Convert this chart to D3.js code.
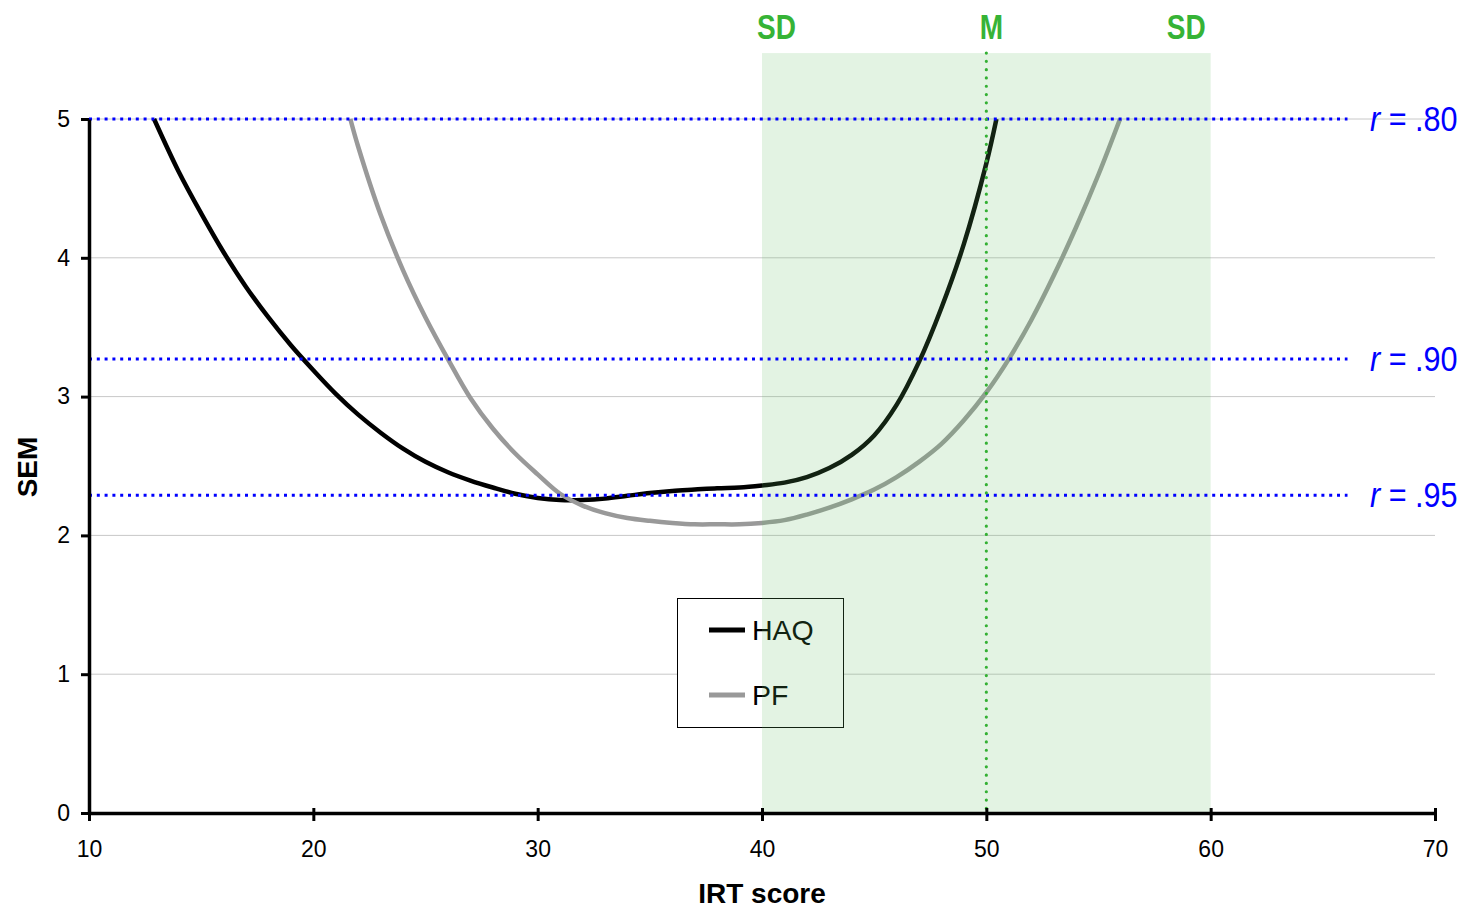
<!DOCTYPE html>
<html>
<head>
<meta charset="utf-8">
<script src="https://cdn.jsdelivr.net/npm/d3@7/dist/d3.min.js"></script>
<style>
  html, body { margin: 0; padding: 0; background: #fff; }
  svg { display: block; }
  text { font-family: "Liberation Sans", Arial, sans-serif; }
</style>
</head>
<body>
<svg id="chart" width="1470" height="910"></svg>
<script>
// ---- data ----
const haqX = [12.9,14,15,16,17,18,19,20,21,22,23,24,25,26,27,28,29,30,31,32,33,34,35,36,37,38,39,40,41,42,43,44,45,46,47,48,49,50,50.45];
const haqY = [5.0,4.62,4.32,4.04,3.79,3.57,3.37,3.19,3.02,2.87,2.74,2.625,2.53,2.455,2.395,2.345,2.30,2.27,2.255,2.255,2.265,2.285,2.305,2.32,2.33,2.34,2.345,2.36,2.38,2.42,2.485,2.58,2.72,2.94,3.25,3.64,4.10,4.68,5.0];
const pfX = [21.65,22,23,24,25,26,27,28,29,30,31,32,33,34,35,36,37,38,39,40,41,42,43,44,45,46,47,48,49,50,51,52,53,54,55,55.96];
const pfY = [5.0,4.80,4.31,3.91,3.57,3.27,2.99,2.77,2.59,2.44,2.30,2.215,2.16,2.125,2.105,2.09,2.08,2.08,2.08,2.09,2.11,2.15,2.20,2.26,2.33,2.42,2.53,2.66,2.83,3.03,3.27,3.55,3.87,4.22,4.60,5.0];
const seriesNames = ["HAQ", "PF"];
const refValues = [5.0, 3.27, 2.29];
const refLabels = [".80", ".90", ".95"];
const refRange = [10, 66.1];
const bandRange = [40, 60];
const bandTop = 5.475;
const meanValue = 50;
const xTicks = [10,20,30,40,50,60,70];
const yTicks = [0,1,2,3,4,5];
const gridValues = [1,2,3,4,5];

// ---- scales ----
const svg = d3.select("#chart");
const x = d3.scaleLinear().domain([10,70]).range([89,1435]);
const y = d3.scaleLinear().domain([0,5]).range([813,119]);

// grid
svg.append("g").selectAll("line").data(gridValues).join("line")
  .attr("x1", x(10)).attr("x2", x(70))
  .attr("y1", d => y(d)).attr("y2", d => y(d))
  .attr("stroke", "#c8c8c8").attr("stroke-width", 1);

// curves
const line = d3.line().x(d => x(d[0])).y(d => y(d[1])).curve(d3.curveCatmullRom.alpha(0.5));
const series = [
  {name: seriesNames[0], pts: haqX.map((v,i)=>[v,haqY[i]]), color: "#000000"},
  {name: seriesNames[1], pts: pfX.map((v,i)=>[v,pfY[i]]), color: "#999999"}
];
svg.append("g").selectAll("path").data(series).join("path")
  .attr("d", d => line(d.pts))
  .attr("fill", "none").attr("stroke", d => d.color)
  .attr("stroke-width", 4.5).attr("stroke-linejoin", "round");

// legend
const lg = svg.append("g");
lg.append("rect").attr("x", 677.5).attr("y", 598.5).attr("width", 166).attr("height", 129)
  .attr("fill", "#fff").attr("stroke", "#000").attr("stroke-width", 1);
series.forEach((s, i) => {
  const yy = 630 + i * 65;
  lg.append("line").attr("x1", 709).attr("x2", 745).attr("y1", yy).attr("y2", yy)
    .attr("stroke", s.color).attr("stroke-width", 5);
  lg.append("text").attr("x", 752).attr("y", yy + 10)
    .attr("font-size", 28.5).attr("fill", "#000").text(s.name);
});

// band (translucent overlay)
svg.append("rect")
  .attr("x", x(bandRange[0])).attr("width", x(bandRange[1]) - x(bandRange[0]))
  .attr("y", y(bandTop)).attr("height", y(0) - y(bandTop))
  .attr("fill", "rgb(100,189,100)").attr("fill-opacity", 0.18);

// reference lines
const rg = svg.append("g");
rg.selectAll("line").data(refValues).join("line")
  .attr("x1", x(refRange[0])).attr("x2", x(refRange[1]))
  .attr("y1", d => y(d)).attr("y2", d => y(d))
  .attr("stroke", "#0000ff").attr("stroke-width", 3).attr("stroke-dasharray", "3,4.8");
refValues.forEach((v, i) => {
  const t = rg.append("text")
    .attr("transform", `translate(1370,${y(v) + 12}) scale(0.85,1)`)
    .attr("font-size", 36).attr("fill", "#0000ff");
  t.append("tspan").attr("font-style", "italic").text("r");
  t.append("tspan").text(" = " + refLabels[i]);
});

// mean line
svg.append("line").attr("x1", x(meanValue)).attr("x2", x(meanValue))
  .attr("y1", y(bandTop)).attr("y2", y(0))
  .attr("stroke", "#33b033").attr("stroke-width", 3.2)
  .attr("stroke-linecap", "round").attr("stroke-dasharray", "0,8.3");

// SD / M labels
const gl = svg.append("g").attr("font-size", 35).attr("font-weight", "bold").attr("fill", "#36b336");
gl.append("text").attr("transform", `translate(${x(bandRange[0]) - 5},39) scale(0.8,1)`).attr("text-anchor", "start").text("SD");
gl.append("text").attr("transform", `translate(${x(meanValue) + 5},39) scale(0.8,1)`).attr("text-anchor", "middle").text("M");
gl.append("text").attr("transform", `translate(${x(bandRange[1]) - 5},39) scale(0.8,1)`).attr("text-anchor", "end").text("SD");

// axes
const yAxis = svg.append("g").attr("transform", `translate(${x(10)},0)`)
  .call(d3.axisLeft(y).tickValues(yTicks).tickFormat(d3.format("d")).tickSize(8).tickSizeOuter(0).tickPadding(11));
yAxis.select(".domain").attr("stroke-width", 3.5).attr("stroke", "#000");
yAxis.selectAll(".tick line").attr("stroke-width", 3).attr("stroke", "#000");
yAxis.selectAll(".tick text").attr("font-size", 23).attr("fill", "#000");

const xAxis = svg.append("g").attr("transform", `translate(0,${y(0)})`)
  .call(d3.axisBottom(x).tickValues(xTicks).tickFormat(d3.format("d")).tickSize(8).tickSizeOuter(0).tickPadding(20));
xAxis.select(".domain").attr("stroke-width", 3.5).attr("stroke", "#000");
xAxis.selectAll(".tick line").attr("y1", -5).attr("stroke-width", 3).attr("stroke", "#000");
xAxis.selectAll(".tick text").attr("font-size", 23).attr("fill", "#000");

// axis titles
svg.append("text").attr("x", 762).attr("y", 903).attr("text-anchor", "middle")
  .attr("font-size", 28).attr("font-weight", "bold").text("IRT score");
svg.append("text").attr("transform", "translate(37,467) rotate(-90)")
  .attr("text-anchor", "middle").attr("font-size", 28).attr("font-weight", "bold").text("SEM");
</script>
</body>
</html>
